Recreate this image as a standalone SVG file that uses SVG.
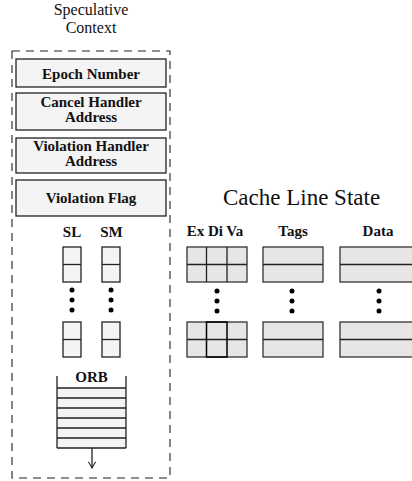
<svg xmlns="http://www.w3.org/2000/svg" width="412" height="481" viewBox="0 0 412 481">
  <style>
    text { font-family: 'Liberation Serif', 'Tinos', 'DejaVu Serif', 'Times New Roman', serif; fill: #111; }
    .title { font-size: 16px; text-anchor: middle; }
    .big { font-size: 23px; }
    .lbl { font-size: 15px; font-weight: bold; text-anchor: middle; }
    .reg { fill: #f4f4f4; stroke: #222; stroke-width: 1.3; }
    .cell { fill: #e6e6e6; stroke: #333; stroke-width: 1.3; }
    .ln { stroke: #222; stroke-width: 1.3; fill: none; }
    .dash { fill: none; stroke: #222; stroke-width: 1.1; stroke-dasharray: 8 6; }
    .dot { fill: #000; }
  </style>
  <defs>
    <!-- open V head, drawn pointing along +x so orient="auto" follows the line -->
    <marker id="openArrow" viewBox="0 0 10 10" refX="9" refY="5" markerWidth="9" markerHeight="9" orient="auto" markerUnits="userSpaceOnUse">
      <path d="M2,1 L9,5 L2,9" fill="none" stroke="#222" stroke-width="1.2"/>
    </marker>
  </defs>

  <!-- Speculative context -->
  <g id="spec-context">
    <text class="title" x="91" y="15">Speculative</text>
    <text class="title" x="91" y="33">Context</text>
    <rect class="dash" x="12" y="51" width="158" height="427"/>
  </g>

  <g id="epoch-number">
    <rect class="reg" x="16" y="59" width="150" height="28"/>
    <text class="lbl" x="91" y="79">Epoch Number</text>
  </g>

  <g id="cancel-handler">
    <rect class="reg" x="16" y="93" width="150" height="37"/>
    <text class="lbl" x="91" y="107">Cancel Handler</text>
    <text class="lbl" x="91" y="122">Address</text>
  </g>

  <g id="violation-handler">
    <rect class="reg" x="16" y="138" width="150" height="35"/>
    <text class="lbl" x="91" y="151">Violation Handler</text>
    <text class="lbl" x="91" y="166">Address</text>
  </g>

  <g id="violation-flag">
    <rect class="reg" x="16" y="180" width="150" height="36"/>
    <text class="lbl" x="91" y="203">Violation Flag</text>
  </g>

  <g id="sl">
    <text class="lbl" x="72" y="237">SL</text>
    <rect class="reg" x="63" y="247" width="18" height="35"/>
    <line class="ln" x1="63" y1="264.5" x2="81" y2="264.5"/>
    <circle class="dot" cx="72" cy="290" r="2.5"/>
    <circle class="dot" cx="72" cy="300" r="2.5"/>
    <circle class="dot" cx="72" cy="310" r="2.5"/>
    <rect class="reg" x="63" y="322" width="18" height="35"/>
    <line class="ln" x1="63" y1="339.5" x2="81" y2="339.5"/>
  </g>

  <g id="sm">
    <text class="lbl" x="111.5" y="237">SM</text>
    <rect class="reg" x="102" y="247" width="18" height="35"/>
    <line class="ln" x1="102" y1="264.5" x2="120" y2="264.5"/>
    <circle class="dot" cx="111" cy="290" r="2.5"/>
    <circle class="dot" cx="111" cy="300" r="2.5"/>
    <circle class="dot" cx="111" cy="310" r="2.5"/>
    <rect class="reg" x="102" y="322" width="18" height="35"/>
    <line class="ln" x1="102" y1="339.5" x2="120" y2="339.5"/>
  </g>

  <g id="orb">
    <text class="lbl" x="91.5" y="382">ORB</text>
    <rect x="57" y="388" width="69" height="60" fill="#f4f4f4"/>
    <path class="ln" d="M57,376 V448 M126,376 V448 M57,388 H126 M57,398 H126 M57,408 H126 M57,418 H126 M57,428 H126 M57,438 H126 M57,448 H126"/>
  </g>

  <!-- Cache line state -->
  <g id="cache-title">
    <text class="big" x="223" y="205">Cache Line State</text>
  </g>

  <g id="state-bits">
    <text class="lbl" x="215" y="236">Ex Di Va</text>
    <rect class="cell" x="187" y="247" width="60" height="35"/>
    <path class="ln" d="M187,264.5 H247 M206.5,247 V282 M227,247 V282"/>
    <circle class="dot" cx="217" cy="291" r="2.5"/>
    <circle class="dot" cx="217" cy="301" r="2.5"/>
    <circle class="dot" cx="217" cy="311" r="2.5"/>
    <rect class="cell" x="187" y="322" width="60" height="35"/>
    <path class="ln" d="M187,339.5 H247"/>
    <rect x="206.5" y="322" width="20.5" height="35" fill="none" stroke="#000" stroke-width="1.5"/>
  </g>

  <g id="tags">
    <text class="lbl" x="293" y="236">Tags</text>
    <rect class="cell" x="263" y="247" width="60" height="35"/>
    <line class="ln" x1="263" y1="264.5" x2="323" y2="264.5"/>
    <circle class="dot" cx="292" cy="291" r="2.5"/>
    <circle class="dot" cx="292" cy="301" r="2.5"/>
    <circle class="dot" cx="292" cy="311" r="2.5"/>
    <rect class="cell" x="263" y="322" width="60" height="35"/>
    <line class="ln" x1="263" y1="339.5" x2="323" y2="339.5"/>
  </g>

  <g id="data">
    <text class="lbl" x="378" y="236">Data</text>
    <rect class="cell" x="340" y="247" width="80" height="35"/>
    <line class="ln" x1="340" y1="264.5" x2="420" y2="264.5"/>
    <circle class="dot" cx="379" cy="291" r="2.5"/>
    <circle class="dot" cx="379" cy="301" r="2.5"/>
    <circle class="dot" cx="379" cy="311" r="2.5"/>
    <rect class="cell" x="340" y="322" width="80" height="35"/>
    <line class="ln" x1="340" y1="339.5" x2="420" y2="339.5"/>
  </g>

  <g id="connectors">
    <line class="ln" x1="92" y1="448" x2="92" y2="468" marker-end="url(#openArrow)"/>
  </g>
</svg>
